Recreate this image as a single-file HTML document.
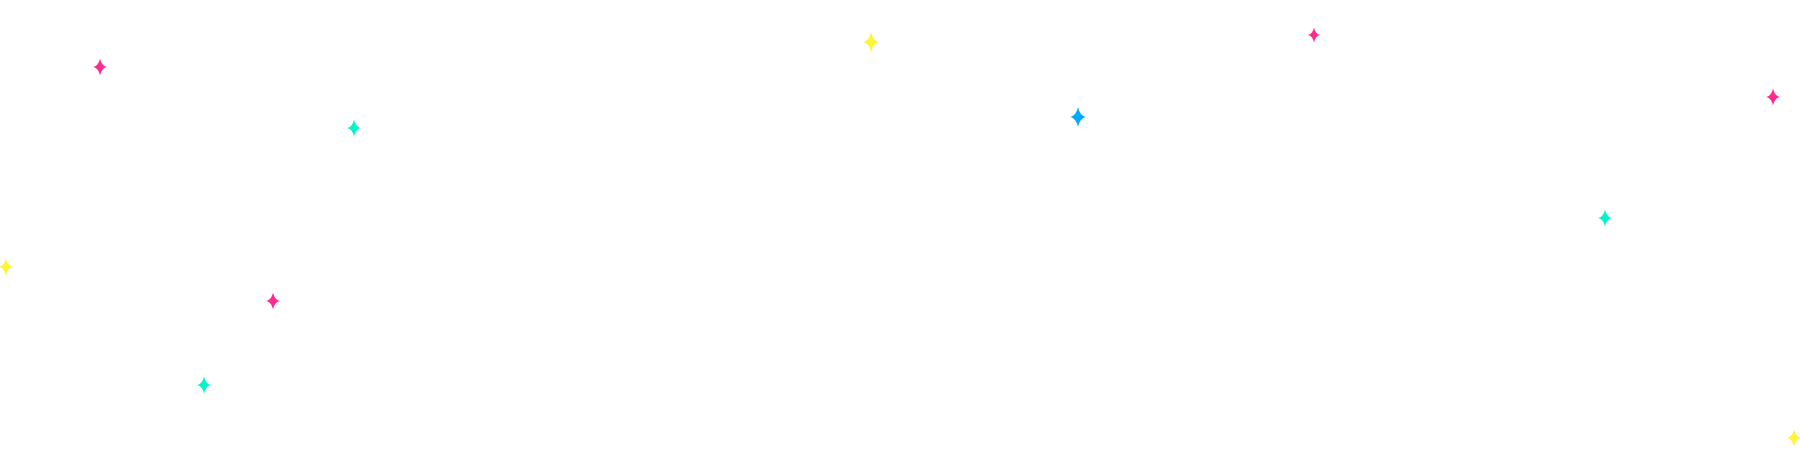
<!DOCTYPE html>
<html><head><meta charset="utf-8"><style>
html,body{margin:0;padding:0;background:#fff;width:1800px;height:455px;overflow:hidden}
svg{display:block}
</style></head><body>
<svg width="1800" height="455" viewBox="0 0 1800 455" xmlns="http://www.w3.org/2000/svg">
<defs>
<path id="s" d="M0,-1 Q0.12,-0.12 0.5,0 Q0.12,0.12 0,1 Q-0.12,0.12 -0.5,0 Q-0.12,-0.12 0,-1Z"/>
</defs>
<g>
<use href="#s" transform="translate(100,67) scale(14,8.5)" fill="#ff2a8e"/>
<use href="#s" transform="translate(354,128) scale(14,8.5)" fill="#00f5c8"/>
<use href="#s" transform="translate(6,267) scale(14,8.5)" fill="#fff534"/>
<use href="#s" transform="translate(273,301) scale(14,8.5)" fill="#ff2a8e"/>
<use href="#s" transform="translate(204,385) scale(14,8.5)" fill="#00f5c8"/>
<use href="#s" transform="translate(871,42) scale(16,10)" fill="#fff534"/>
<use href="#s" transform="translate(1078,117) scale(16,10)" fill="#00aaff"/>
<use href="#s" transform="translate(1314,35) scale(12,7.5)" fill="#ff2a8e"/>
<use href="#s" transform="translate(1773,97) scale(14,8.5)" fill="#ff2a8e"/>
<use href="#s" transform="translate(1605,218) scale(14,8.5)" fill="#00f5c8"/>
<use href="#s" transform="translate(1794,438) scale(14,8.5)" fill="#fff534"/>
</g>
</svg>
</body></html>
